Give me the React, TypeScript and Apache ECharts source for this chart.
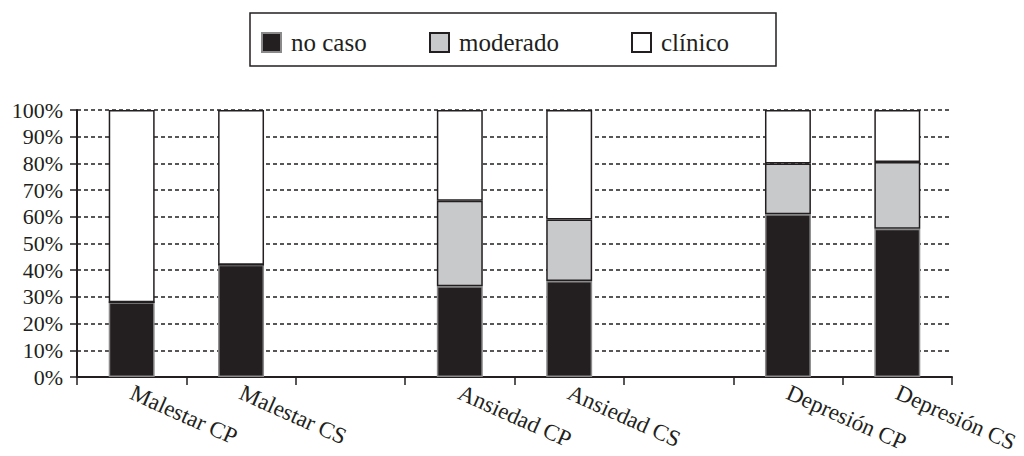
import React, { useEffect, useRef } from "react";
import * as echarts from "echarts";

const categories = [
  "Malestar CP",
  "Malestar CS",
  "",
  "Ansiedad CP",
  "Ansiedad CS",
  "",
  "Depresión CP",
  "Depresión CS",
];
const noCaso: (number | string)[] = [28, 42, "-", 34, 36, "-", 61, 55.5];
const moderado: (number | string)[] = [0, 0, "-", 32, 23, "-", 19, 25];
const clinico: (number | string)[] = [72, 58, "-", 34, 41, "-", 20, 19.5];
const seriesNames = ["no caso", "moderado", "clínico"];
const legendLefts = [261, 429, 631];

const FONT = "'Liberation Serif', 'Times New Roman', serif";
const INK = "#231f20";

export default function App() {
  const ref = useRef<HTMLDivElement>(null);
  useEffect(() => {
    if (!ref.current) return;
    const chart = echarts.init(ref.current, undefined, { renderer: "svg" });
    const mk = (name: string, data: (number | string)[], color: string, border: string) => ({
      name,
      type: "bar",
      stack: "total",
      barWidth: "42%",
      data,
      itemStyle: { color, borderColor: border, borderWidth: 1.5 },
    });
    chart.setOption({
      animation: false,
      backgroundColor: "#ffffff",
      textStyle: { fontFamily: FONT, color: INK },
      legend: seriesNames.map((n, i) => ({
        left: legendLefts[i],
        top: 30,
        padding: 0,
        itemWidth: 19,
        itemHeight: 19,
        icon: "rect",
        selectedMode: false,
        textStyle: {
          fontFamily: FONT,
          fontSize: 25,
          color: INK,
          lineHeight: 20,
          padding: [0, 0, 0, 5],
        },
        data: [n],
      })),
      graphic: [
        {
          type: "rect",
          shape: { x: 250, y: 13, width: 526, height: 53 },
          style: { fill: "none", stroke: INK, lineWidth: 1.5 },
          silent: true,
        },
      ],
      grid: { left: 77, right: 72, top: 110, bottom: 79, outerBoundsMode: "none", containLabel: false },
      xAxis: {
        type: "category",
        data: categories,
        boundaryGap: true,
        axisLine: { show: true, lineStyle: { color: INK, width: 2 } },
        axisTick: { show: true, interval: 0, length: 8, lineStyle: { color: INK, width: 1.5 } },
        axisLabel: {
          interval: 0,
          rotate: -24,
          margin: 14,
          fontFamily: FONT,
          fontSize: 23,
          lineHeight: 20,
          color: INK,
        },
      },
      yAxis: {
        type: "value",
        min: 0,
        max: 100,
        interval: 10,
        axisLine: { show: true, lineStyle: { color: INK, width: 2 } },
        axisTick: { show: true, length: 7, lineStyle: { color: INK, width: 1.5 } },
        axisLabel: {
          formatter: "{value}%",
          margin: 14,
          fontFamily: FONT,
          fontSize: 22,
          color: INK,
        },
        splitLine: {
          show: true,
          lineStyle: { color: INK, width: 1.5, type: [4, 3] },
        },
      },
      series: [
        mk(seriesNames[0], noCaso, INK, "#8a8a8a"),
        mk(seriesNames[1], moderado, "#c8c9cb", INK),
        mk(seriesNames[2], clinico, "#ffffff", INK),
      ],
    });
    return () => chart.dispose();
  }, []);
  return (
    <div
      ref={ref}
      style={{ position: "fixed", left: 0, top: 0, width: 1024, height: 456, background: "#fff" }}
    />
  );
}
